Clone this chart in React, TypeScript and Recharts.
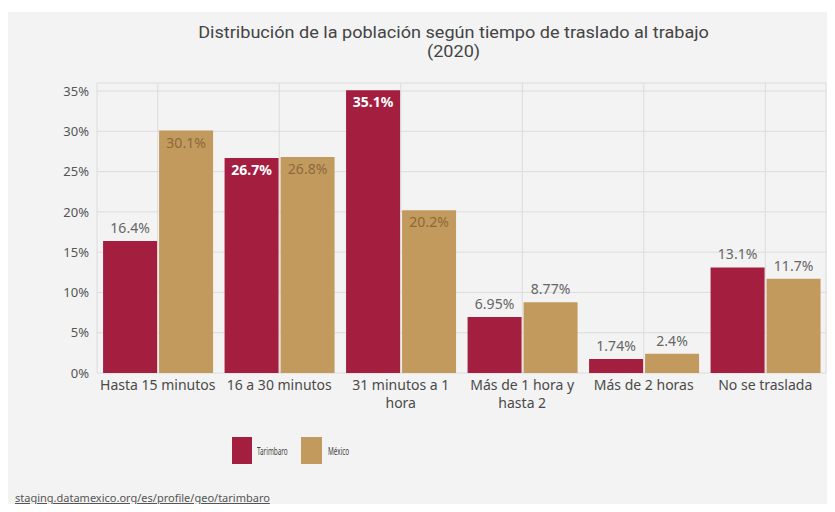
import React from "react";
import { BarChart, Bar, XAxis, YAxis, CartesianGrid, LabelList } from "recharts";

const categories = [
  "Hasta 15 minutos",
  "16 a 30 minutos",
  "31 minutos a 1 hora",
  "Más de 1 hora y hasta 2",
  "Más de 2 horas",
  "No se traslada",
];
const tarimbaro = [16.4, 26.7, 35.1, 6.95, 1.74, 13.1];
const mexico = [30.1, 26.8, 20.2, 8.77, 2.4, 11.7];
const yTicks = [0, 5, 10, 15, 20, 25, 30, 35];
const seriesNames = ["Tarimbaro", "México"];
const titleLines = ["Distribución de la población según tiempo de traslado al trabajo", "(2020)"];
const sourceText = "staging.datamexico.org/es/profile/geo/tarimbaro";

const RED = "#a31e3f";
const GOLD = "#c39a5d";
const FONT = "'Noto Sans', sans-serif";

const data = categories.map((c, i) => ({ name: c, t: tarimbaro[i], m: mexico[i] }));

function wrap(label: string, max = 16): string[] {
  if (label.length <= max) return [label];
  const words = label.split(" ");
  const lines: string[] = [];
  let cur = "";
  for (const w of words) {
    const next = cur ? cur + " " + w : w;
    if (next.length > max && cur) {
      lines.push(cur);
      cur = w;
    } else cur = next;
  }
  if (cur) lines.push(cur);
  return lines;
}

const XTick = (props: any) => {
  const { x, y, payload } = props;
  const lines = wrap(String(payload.value));
  return (
    <g>
      {lines.map((l, i) => (
        <text key={i} x={x} y={y + 9 + i * 18} textAnchor="middle" fill="#4a4a4a" fontSize={14} fontFamily={FONT}>
          {l}
        </text>
      ))}
    </g>
  );
};

const makeLabel = (series: "t" | "m") => (props: any) => {
  const { x, y, width, value } = props;
  const v = Number(value);
  const text = String(v) + "%";
  const cx = x + width / 2;
  if (v >= 20) {
    return (
      <text
        x={cx}
        y={y + 17}
        textAnchor="middle"
        fill={series === "t" ? "#ffffff" : "#8a6a3c"}
        fontWeight={series === "t" ? 700 : 400}
        fontSize={14}
        fontFamily={FONT}
      >
        {text}
      </text>
    );
  }
  return (
    <text x={cx} y={y - 8} textAnchor="middle" fill="#666" fontSize={14} fontFamily={FONT}>
      {text}
    </text>
  );
};

export default function App() {
  return (
    <div style={{ position: "relative", width: 835, height: 512, margin: -8, background: "#fff", overflow: "hidden", fontFamily: FONT }}>
      <div style={{ position: "absolute", left: 8, top: 12, width: 827, height: 500, background: "#f3f3f3" }} />
      <div style={{ position: "absolute", left: 0, top: 0 }}>
        <BarChart
          width={835}
          height={512}
          data={data}
          margin={{ top: 83, right: 9, bottom: 99, left: 37 }}
          barGap={2}
          barCategoryGap="5%"
        >
          <CartesianGrid stroke="#dcdcdc" vertical horizontal />
          <XAxis dataKey="name" axisLine={false} tickLine={false} tick={<XTick />} interval={0} height={40} />
          <YAxis
            domain={[0, 36]}
            ticks={yTicks}
            axisLine={false}
            tickLine={false}
            width={60}
            tickFormatter={(v: number) => v + "%"}
            tick={{ fill: "#555", fontSize: 13, fontFamily: FONT }}
          />
          <Bar dataKey="t" fill={RED} isAnimationActive={false}>
            <LabelList dataKey="t" content={makeLabel("t")} />
          </Bar>
          <Bar dataKey="m" fill={GOLD} isAnimationActive={false}>
            <LabelList dataKey="m" content={makeLabel("m")} />
          </Bar>
        </BarChart>
      </div>
      {titleLines.map((l, i) => (
        <div
          key={i}
          style={{
            position: "absolute",
            left: 0,
            width: 907,
            top: 23 + i * 19,
            textAlign: "center",
            color: "#444",
            fontFamily: "Roboto, sans-serif",
            fontSize: 16,
            lineHeight: "19px",
            whiteSpace: "nowrap",
            transform: "scaleX(1.13)",
            transformOrigin: "453px 50%",
          }}
        >
          {l}
        </div>
      ))}
      <div style={{ position: "absolute", left: 232, top: 437, display: "flex", alignItems: "center", fontSize: 11, color: "#444" }}>
        <div style={{ width: 20, height: 27, background: RED }} />
        <span style={{ marginLeft: 5, width: 44, display: "inline-block", transform: "scaleX(0.58)", transformOrigin: "left center", whiteSpace: "nowrap" }}>{seriesNames[0]}</span>
        <div style={{ width: 21, height: 27, background: GOLD }} />
        <span style={{ marginLeft: 6, display: "inline-block", transform: "scaleX(0.58)", transformOrigin: "left center", whiteSpace: "nowrap" }}>{seriesNames[1]}</span>
      </div>
      <div style={{ position: "absolute", left: 15, top: 491, fontSize: 11, lineHeight: "13px", color: "#555", textDecoration: "underline", whiteSpace: "nowrap" }}>
        {sourceText}
      </div>
    </div>
  );
}
